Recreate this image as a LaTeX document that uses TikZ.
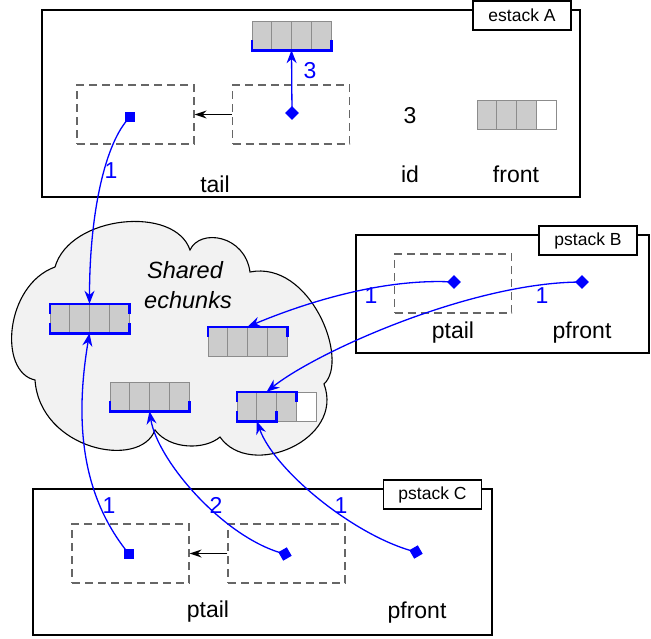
\documentclass[tikz,border=0pt]{standalone}
\usepackage{fontspec}
\setmainfont{Liberation Sans}
\usetikzlibrary{arrows.meta,shapes.geometric}

\newcommand{\echunk}[3]{%
  \foreach \k in {0,...,3}
    \filldraw[cell] (#2+\k*19.75,#3) rectangle +(19.75,29);
  \node[chunk] (#1) at (#2+39.5,#3+14.5) {};
}

\begin{document}
\begin{tikzpicture}[x=1pt,y=-1pt,
    every node/.style={font=\fontsize{23}{27}\selectfont},
    frame/.style={draw=black, line width=1.4pt},
    title/.style={draw=black, fill=white, line width=1.4pt, minimum width=98pt, minimum height=29pt, inner sep=0pt, font=\fontsize{17.5}{20}\selectfont},
    slot/.style={draw=black!60, dash pattern=on 8pt off 5pt, line width=1.2pt, minimum width=117pt, minimum height=59pt, inner sep=0pt},
    cell/.style={fill=gray!40, draw=black!45, line width=1pt},
    chunk/.style={minimum width=79pt, minimum height=29pt, inner sep=0pt},
    brk/.style={draw=blue, line width=2.6pt},
    sq/.style={fill=blue, minimum size=10pt, inner sep=0pt},
    dia/.style={diamond, fill=blue, minimum size=14pt, inner sep=0pt},
    ptr/.style={draw=blue, line width=1.3pt, -{Stealth[length=13pt,width=10pt]}},
    link/.style={draw=black, line width=1.4pt, -{Stealth[length=12pt,width=8pt,inset=4pt]}},
    num/.style={text=blue, anchor=base},
    lbl/.style={anchor=base}]

    \useasboundingbox (0,0) rectangle (651,638);

    \draw[frame] (42,10) rectangle (580,197);
    \draw[frame] (356,235) rectangle (649,353);
    \draw[frame] (33,489) rectangle (492,635);
    \node[title] (atitle) at (522,15.5) {estack A};
    \node[title] (btitle) at (588,240.5) {pstack B};
    \node[title] (ctitle) at (432.5,494.5) {pstack C};

    \filldraw[fill=gray!10, draw=black, line width=1.1pt]
      (35,380) .. controls +(-37,-8) and +(-50,18) .. (55,267)
               .. controls +(15,-52) and +(-15,-45) .. (190,250)
               .. controls +(10,-22) and +(-5,-37) .. (250,272)
               .. controls +(60,-12) and +(26,-24) .. (324,384)
               .. controls +(21,56) and +(30,43) .. (220,437)
               .. controls +(-15,13) and +(15,20) .. (155,430)
               .. controls +(-15,40) and +(5,70) .. cycle;
    \node[anchor=base, font=\fontsize{23.5}{27}\selectfont\itshape] (sharedtxt) at (185,278) {Shared};
    \node[anchor=base, font=\fontsize{23.5}{27}\selectfont\itshape] (echunkstxt) at (188,308) {echunks};

    \node[slot] (aslot1) at (135.5,114.5) {};
    \node[slot] (aslot2) at (291,114.5) {};
    \node[slot] (bslot) at (453,283.5) {};
    \node[slot] (cslot1) at (130.5,553.5) {};
    \node[slot] (cslot2) at (286.5,553.5) {};
    \draw[link] (aslot2.west) -- (aslot1.east);
    \draw[link] (cslot2.west) -- (cslot1.east);

    \echunk{atop}{252}{21}
    \echunk{afront}{477}{100}
    \filldraw[cell, fill=white] (536.25,100) rectangle +(19.75,29);
    \echunk{c1}{50}{304}
    \echunk{c2}{208}{327}
    \echunk{c3}{110}{382}
    \echunk{c4}{237}{392}
    \filldraw[cell, fill=white] (296.25,392) rectangle +(19.75,29);

    \draw[brk] ([yshift=10pt]atop.south west) -- (atop.south west) -- (atop.south east) -- ([yshift=10pt]atop.south east);
    \draw[brk] ([yshift=-10pt]c1.north west) -- (c1.north west) -- (c1.north east) -- ([yshift=-10pt]c1.north east);
    \draw[brk] ([yshift=10pt]c1.south west) -- (c1.south west) -- (c1.south east) -- ([yshift=10pt]c1.south east);
    \draw[brk] ([yshift=-10pt]c2.north west) -- (c2.north west) -- (c2.north east) -- ([yshift=-10pt]c2.north east);
    \draw[brk] ([yshift=10pt]c3.south west) -- (c3.south west) -- (c3.south east) -- ([yshift=10pt]c3.south east);
    \draw[brk] ([yshift=-10pt]c4.north west) -- (c4.north west) -- ([xshift=-19.75pt]c4.north east) -- ([xshift=-19.75pt,yshift=-10pt]c4.north east);
    \draw[brk] ([yshift=10pt]c4.south west) -- (c4.south west) -- ([xshift=-39.5pt]c4.south east) -- ([xshift=-39.5pt,yshift=10pt]c4.south east);
    \coordinate (c4in) at ([xshift=-9.9pt]c4.north);
    \coordinate (c4out) at ([xshift=-19.75pt]c4.south);

    \node[sq] (aptr) at (130,117) {};
    \node[dia] (aptr3) at (292,113) {};
    \node[dia] (bptail) at (454,282) {};
    \node[dia] (bpfront) at (582,282) {};
    \node[sq] (cptail) at (129,554) {};
    \node[dia, rotate=-15] (cptail2) at (285,554) {};
    \node[dia, rotate=-15] (cpfront) at (416,552) {};

    \draw[ptr] (aptr3.center) -- (atop.south);
    \draw[ptr] (aptr.center) .. controls +(-25,25) and +(0,-90) .. (c1.north);
    \draw[ptr] (bptail.center) .. controls +(-70,-4) and +(60,-25) .. (c2.north);
    \draw[ptr] (bpfront.center) .. controls +(-110,0) and +(50,-40) .. (c4in);
    \draw[ptr] (cptail.center) .. controls +(-45,-55) and +(-16,95) .. (c1.south);
    \draw[ptr] (cptail2.center) .. controls +(-60,-15) and +(8,50) .. (c3.south);
    \draw[ptr] (cpfront.center) .. controls +(-60,-15) and +(18,50) .. (c4out);

    \node[num] (n3) at (310,78) {3};
    \node[num] (n1a) at (111,178) {1};
    \node[num] (n1b) at (371,303) {1};
    \node[num] (n1c) at (542,303) {1};
    \node[num] (n1d) at (109,513) {1};
    \node[num] (n2d) at (216,513) {2};
    \node[num] (n1e) at (341,513) {1};

    \node[lbl] (tailtxt) at (215,192) {tail};
    \node[lbl] (idval) at (410,123) {3};
    \node[lbl] (idtxt) at (410,182) {id};
    \node[lbl] (fronttxt) at (516,182) {front};
    \node[lbl] (bptailtxt) at (453,338) {ptail};
    \node[lbl] (bpfronttxt) at (582,338) {pfront};
    \node[lbl] (cptailtxt) at (208,617) {ptail};
    \node[lbl] (cpfronttxt) at (417,618) {pfront};
\end{tikzpicture}
\end{document}
